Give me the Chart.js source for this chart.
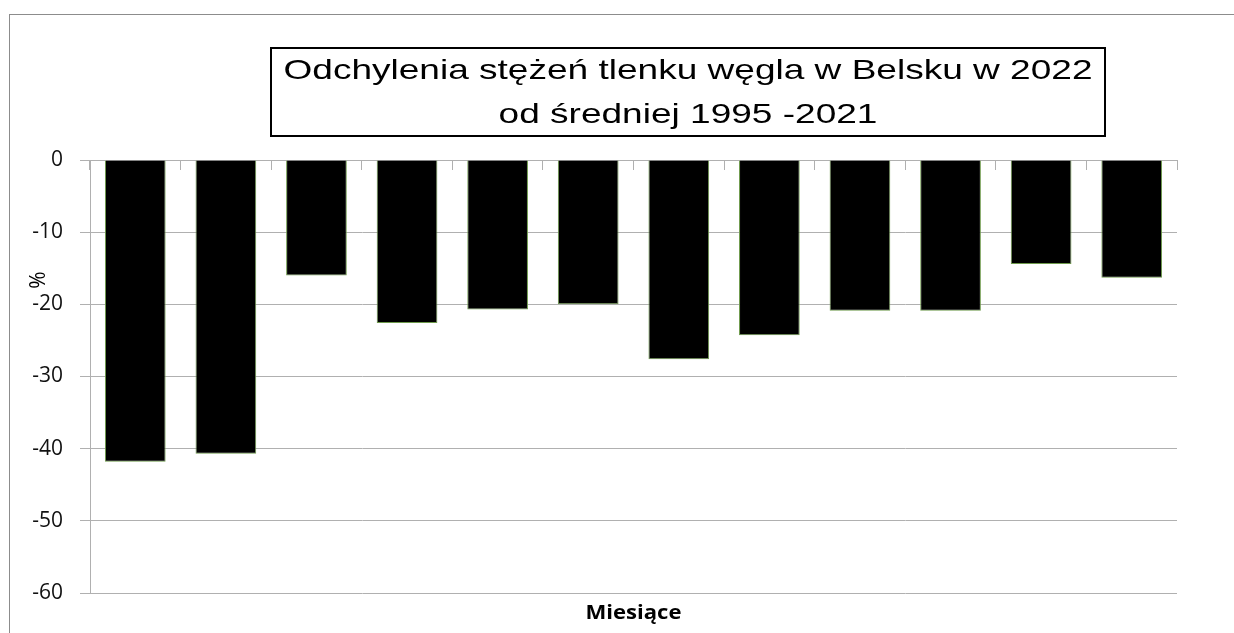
<!DOCTYPE html>
<html>
<head>
<meta charset="utf-8">
<script src="https://cdn.jsdelivr.net/npm/chart.js@4"></script>
<style>
  html, body { margin: 0; padding: 0; background: #fff; }
  canvas { display: block; }
</style>
</head>
<body>
<canvas id="chart" width="1234" height="633"></canvas>
<script>
// months (labels are not shown on the original chart)
const months = ['I', 'II', 'III', 'IV', 'V', 'VI', 'VII', 'VIII', 'IX', 'X', 'XI', 'XII']
// deviation from the 1995-2021 mean, %
const deviation = [-41.8, -40.7, -16.0, -22.6, -20.7, -20.0, -27.6, -24.3, -20.9, -20.9, -14.4, -16.3]

const titleLines = ['Odchylenia stężeń tlenku węgla w Belsku w 2022', 'od średniej 1995 -2021']
const xTitle = 'Miesiące'
const yTitle = '%'

const GRID = '#b0b0b0'
const TICK_FONT = '"Open Sans", sans-serif'

// draw text stretched to a given width (the original image is a bit wide)
function stretchedText(ctx, text, x, y, width) {
  const sx = width / ctx.measureText(text).width
  ctx.save()
  ctx.translate(x, y)
  ctx.scale(sx, 1)
  ctx.fillText(text, 0, 0)
  ctx.restore()
  return sx
}

// frame, boxed title and axis titles
const decorations = {
  id: 'decorations',
  beforeDraw(chart) {
    const ctx = chart.ctx
    ctx.save()
    ctx.strokeStyle = '#8c8c8c'
    ctx.lineWidth = 1
    ctx.strokeRect(9.5, 14.5, 1400, 800)
    ctx.restore()
  },
  afterDraw(chart) {
    const ctx = chart.ctx
    const area = chart.chartArea

    // title box
    const bx = 271, by = 48, bw = 834, bh = 88
    ctx.save()
    ctx.fillStyle = '#fff'
    ctx.fillRect(bx, by, bw, bh)
    ctx.strokeStyle = '#000'
    ctx.lineWidth = 2
    ctx.strokeRect(bx, by, bw, bh)

    ctx.fillStyle = '#000'
    ctx.font = '28px "Liberation Sans", Arial, sans-serif'
    ctx.textBaseline = 'alphabetic'
    ctx.textAlign = 'center'
    const cx = bx + bw / 2
    const sx = stretchedText(ctx, titleLines[0], cx, 79, 809)
    const w1 = ctx.measureText(titleLines[1]).width * sx
    stretchedText(ctx, titleLines[1], cx, 123, w1)

    // x axis title
    ctx.font = 'bold 20px "Open Sans", sans-serif'
    ctx.textBaseline = 'middle'
    stretchedText(ctx, xTitle, (area.left + area.right) / 2, 613, 96)

    // y axis title
    ctx.translate(39, 280)
    ctx.rotate(-Math.PI / 2)
    ctx.font = '21px "Open Sans", sans-serif'
    ctx.fillText(yTitle, 0, 0)
    ctx.restore()
  }
}

new Chart(document.getElementById('chart'), {
  type: 'bar',
  data: {
    labels: months,
    datasets: [{
      data: deviation,
      backgroundColor: '#000',
      borderColor: '#6e9a4c',
      borderWidth: 1,
      barPercentage: 0.67,
      categoryPercentage: 1
    }]
  },
  options: {
    responsive: false,
    animation: false,
    layout: { padding: { top: 160, right: 57, bottom: 40, left: 0 } },
    plugins: {
      legend: { display: false },
      tooltip: { enabled: false }
    },
    scales: {
      x: {
        position: { y: 0 },
        ticks: { display: false },
        grid: { drawOnChartArea: false, offset: true, tickLength: 9, color: GRID },
        border: { color: GRID }
      },
      y: {
        min: -60,
        max: 0,
        ticks: {
          stepSize: 10,
          padding: 17,
          color: '#111',
          font: { family: TICK_FONT, size: 21 }
        },
        grid: { color: GRID, tickLength: 10 },
        border: { color: GRID },
        afterFit: scale => { scale.width = 90 }
      }
    }
  },
  plugins: [decorations]
})
</script>
</body>
</html>
